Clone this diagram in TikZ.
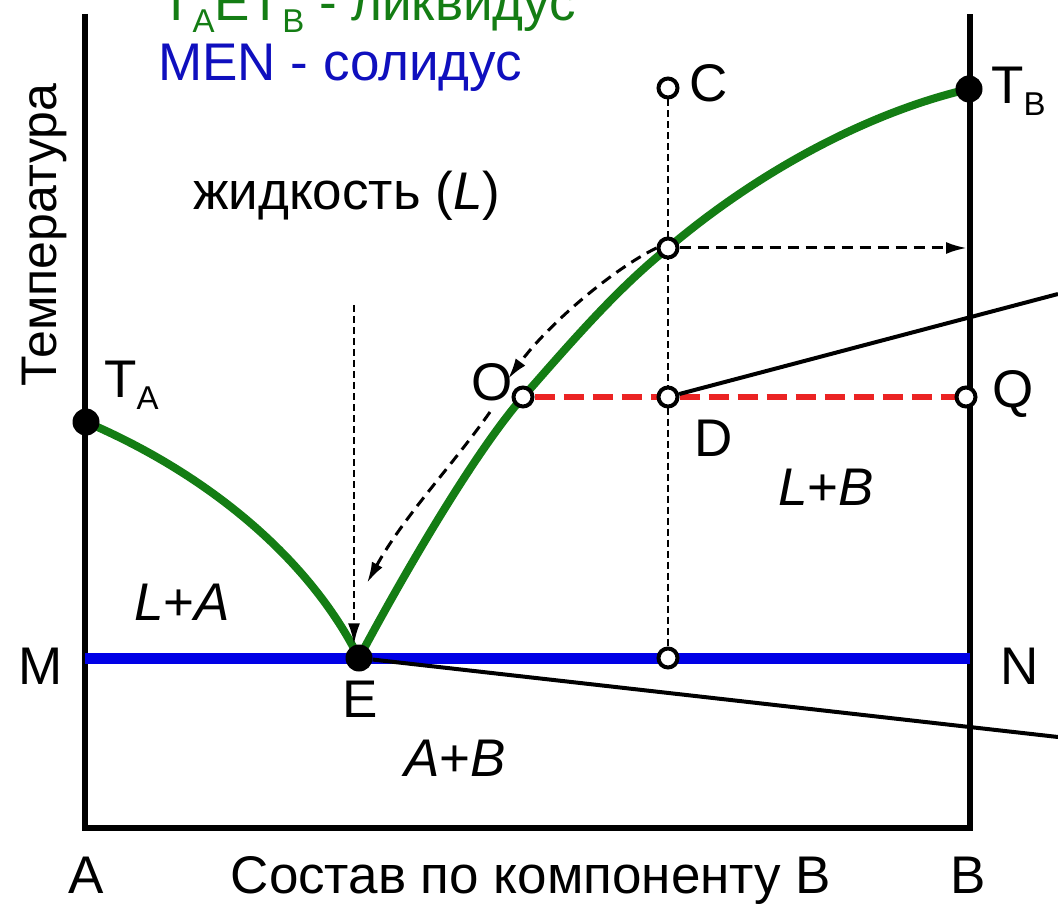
\documentclass[tikz,border=0pt]{standalone}
\usepackage{fontspec}
\setmainfont{Liberation Sans}
\usetikzlibrary{arrows.meta}
\definecolor{liqgreen}{RGB}{20,125,20}
\definecolor{solblue}{RGB}{0,0,230}
\definecolor{txtblue}{RGB}{15,15,190}
\definecolor{tiered}{RGB}{235,35,35}
\newcommand{\Tsb}[1]{T\raisebox{-0.22em}{\fontsize{33}{33}\selectfont #1}}
\pgfdeclarelayer{bg}
\pgfsetlayers{bg,main}
\tikzset{
  axisline/.style={line width=6pt},
  liq/.style={line width=8pt, color=liqgreen},
  sol/.style={line width=11pt, color=solblue},
  odot/.style={circle, draw=black, fill=white, line width=4pt, minimum size=19pt, inner sep=0pt},
  fdot/.style={circle, fill=black, minimum size=27pt, inner sep=0pt},
  vdash/.style={line width=2.4pt, dash pattern=on 7pt off 4pt},
  adash/.style={line width=3pt, dash pattern=on 11pt off 7pt, -{Latex[length=21pt,width=12pt]}},
  tdash/.style={line width=2.4pt, dash pattern=on 7pt off 4pt, -{Latex[length=21pt,width=12pt]}},
  tie/.style={line width=5.5pt, color=tiered, dash pattern=on 20pt off 9pt},
  tieline/.style={line width=4pt},
  lbl/.style={inner sep=0pt},
}
\begin{document}
\begin{tikzpicture}[x=1pt, y=-1pt, font=\fontsize{53}{58}\selectfont]
\useasboundingbox (0,0) rectangle (1058,909);
\clip (0,0) rectangle (1058,909);
% coordinates
\coordinate (Atop) at (85,14);
\coordinate (Abot) at (85,828);
\coordinate (Bbot) at (970,828);
\coordinate (Btop) at (970,14);
\coordinate (M) at (85,658);
\coordinate (N) at (970,658);
\coordinate (Dend) at (1058,294);
\coordinate (Eend) at (1058,737);
\coordinate (Parr) at (967,248);
\coordinate (Vtop) at (354,305);
\coordinate (cu1) at (508,379);
\coordinate (cl0) at (490,412);
\coordinate (cl1) at (367,583);
% points
\node[fdot] (TA) at (86,422) {};
\node[fdot] (E) at (359,658) {};
\node[fdot] (TB) at (969,89) {};
\node[odot] (C) at (668,88) {};
\node[odot] (P) at (668,248) {};
\node[odot] (O) at (523,397) {};
\node[odot] (D) at (668,397) {};
\node[odot] (Q) at (966,397) {};
\node[odot] (S) at (668,658) {};
\begin{pgfonlayer}{bg}
\draw[axisline] (Atop) -- (Abot) -- (Bbot) -- (Btop);
\draw[sol] (M) -- (N);
\draw[liq] (TA.center) .. controls (210,475) and (310,560) .. (E.center);
\draw[liq] (E.center) .. controls (400,581) and (473,454) .. (O.center)
  .. controls (573,340) and (618,288) .. (P.center)
  .. controls (760,170) and (870,112) .. (TB.center);
\draw[vdash] (C) -- (S);
\draw[tie] (O) -- (Q);
\draw[tieline] (D) -- (Dend);
\draw[tieline] (E) -- (Eend);
\draw[adash] (P) -- (Parr);
\draw[tdash] (Vtop) -- (Vtop |- E.north);
\draw[adash] (P.west) .. controls (615,268) and (550,322) .. (cu1);
\draw[adash] (cl0) .. controls (452,466) and (404,516) .. (cl1);
\end{pgfonlayer}
% labels
\node[lbl, anchor=base west, text=liqgreen] (liqlbl) at (160,21) {\Tsb{A}E\Tsb{B} - ликвидус};
\node[lbl, anchor=base west, text=txtblue] (sollbl) at (158,81) {MEN - солидус};
\node[lbl, anchor=base west] (liqreg) at (193,210) {жидкость (\textit{L})};
\node[lbl, rotate=90, anchor=base, font=\fontsize{50}{54}\selectfont] (ylbl) at (56,235) {Температура};
\node[lbl, anchor=base west] (TAl) at (104,398) {\Tsb{A}};
\node[lbl, anchor=base east] (Ol) at (513,400) {O};
\node[lbl, anchor=base west] (Cl) at (689,102) {C};
\node[lbl, anchor=base west] (TBl) at (991,104) {\Tsb{B}};
\node[lbl, anchor=base west] (Ql) at (992,407) {Q};
\node[lbl, anchor=base west] (Dl) at (694,456) {D};
\node[lbl, anchor=base west] (LBl) at (778,505) {\textit{L}+\textit{B}};
\node[lbl, anchor=base west] (LAl) at (134,620) {\textit{L}+\textit{A}};
\node[lbl, anchor=base west] (Ml) at (18,684) {M};
\node[lbl, anchor=base west] (Nl) at (1000,684) {N};
\node[lbl, anchor=base] (El) at (360,717) {E};
\node[lbl, anchor=base west] (ABl) at (404,776) {\textit{A}+\textit{B}};
\node[lbl, anchor=base] (Al) at (86,893) {A};
\node[lbl, anchor=base] (xlbl) at (531,893) {Состав по компоненту B};
\node[lbl, anchor=base] (Bl) at (968,893) {B};
\end{tikzpicture}
\end{document}
